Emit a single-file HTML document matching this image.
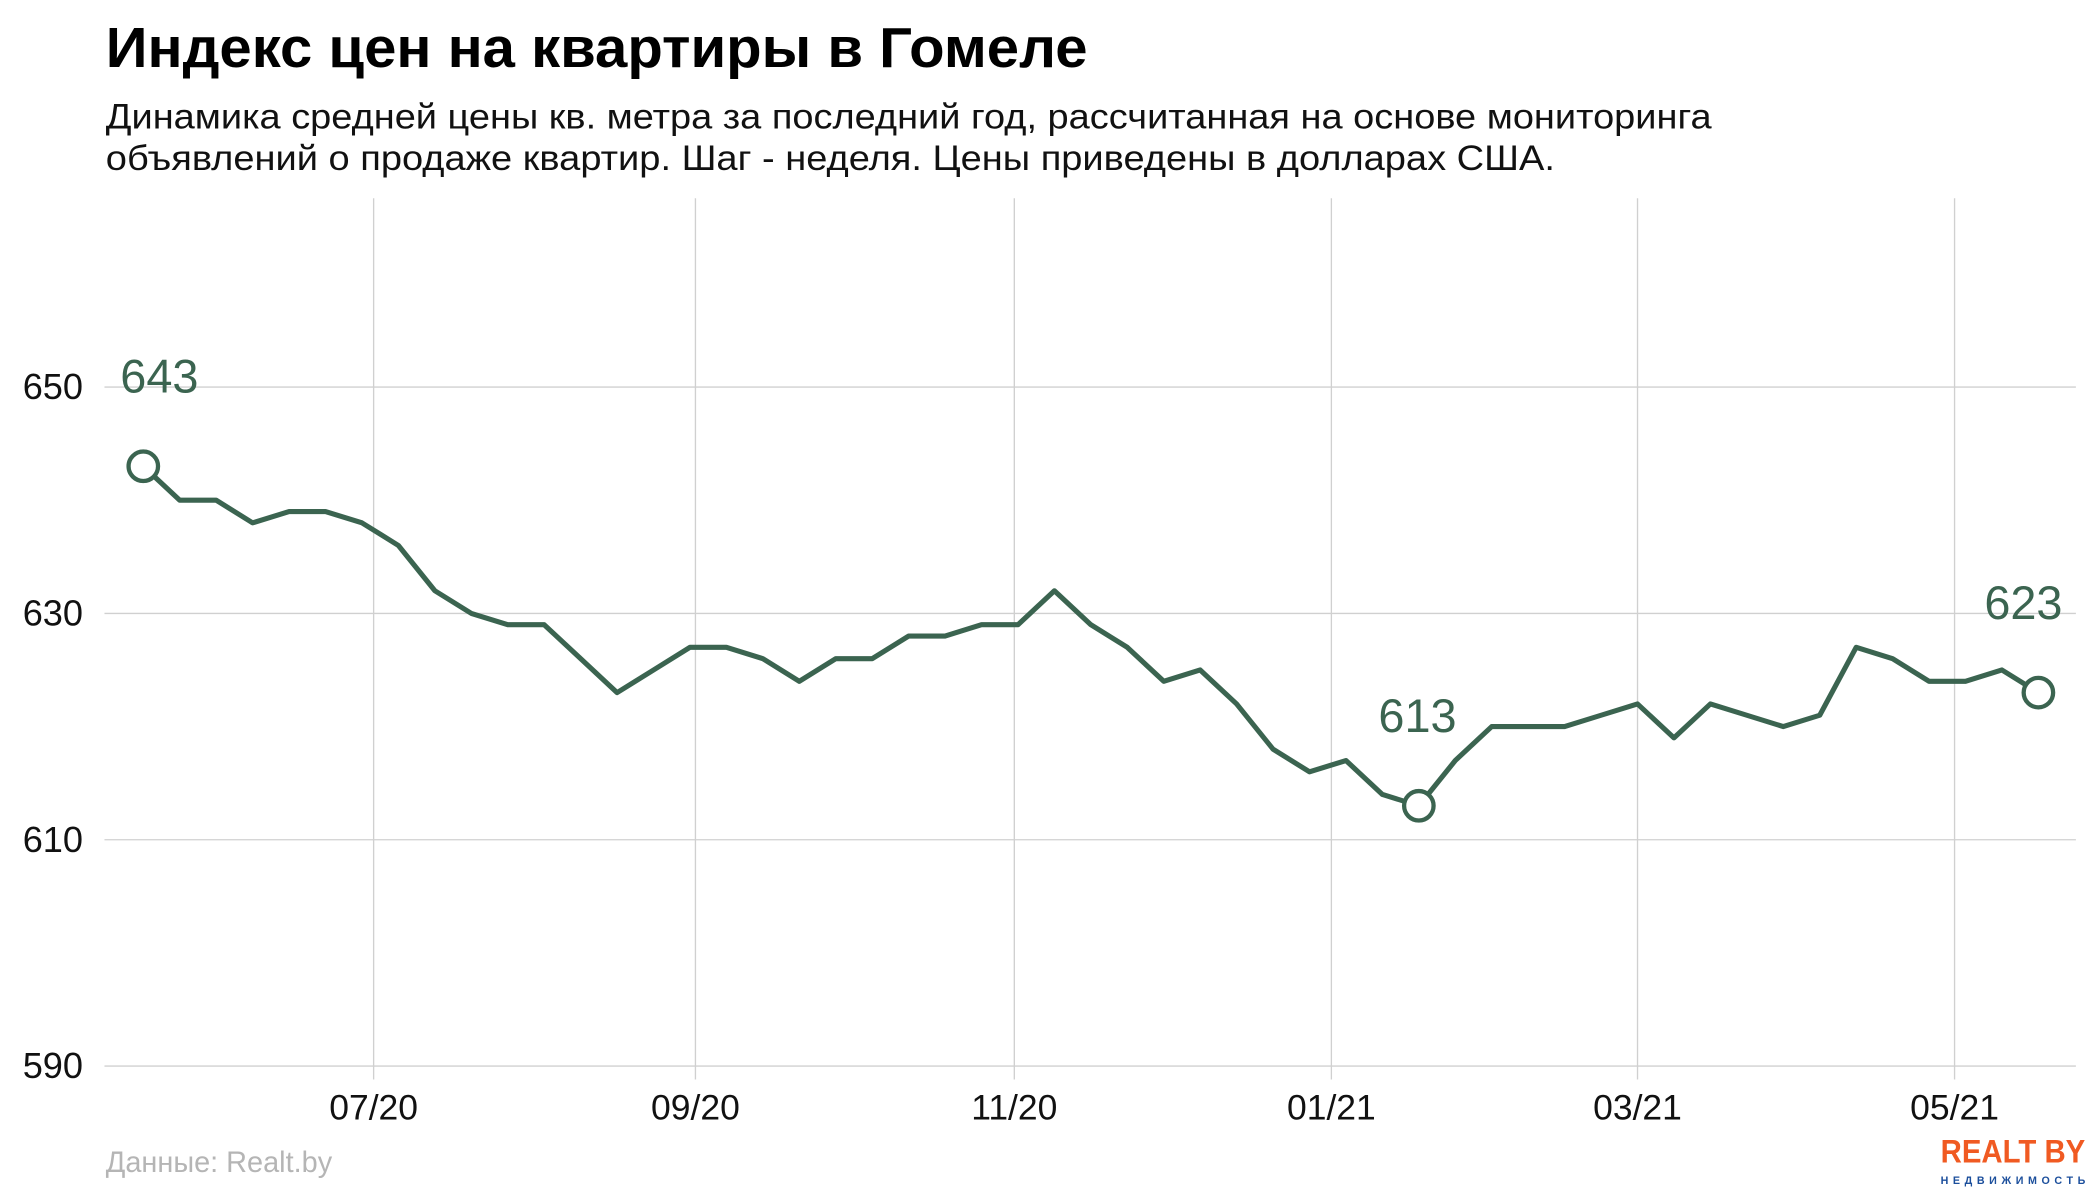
<!DOCTYPE html>
<html><head><meta charset="utf-8"><style>
html,body{margin:0;padding:0;background:#fff;}
svg{display:block;font-family:"Liberation Sans",Arial,sans-serif;}
</style></head><body>
<svg id="chart" width="2100" height="1200" viewBox="0 0 1568 896" preserveAspectRatio="none" xmlns="http://www.w3.org/2000/svg">
<text x="79" y="50" font-size="42" font-weight="bold" fill="#000" textLength="733" lengthAdjust="spacingAndGlyphs">Индекс цен на квартиры в Гомеле</text>
<text x="79" y="96" font-size="26.5" fill="#111" textLength="1199" lengthAdjust="spacingAndGlyphs">Динамика средней цены кв. метра за последний год, рассчитанная на основе мониторинга</text>
<text x="79" y="127" font-size="26.5" fill="#111" textLength="1082" lengthAdjust="spacingAndGlyphs">объявлений о продаже квартир. Шаг - неделя. Цены приведены в долларах США.</text>
<g id="grid"></g>
<g id="yticks"></g>
<g id="xticks"></g>
<g id="series"></g>
<text x="79" y="875" font-size="22" fill="#b5b5b5" textLength="169" lengthAdjust="spacingAndGlyphs">Данные: Realt.by</text>
<g>
<text x="1557" y="868" font-size="24" font-weight="bold" fill="#f05a22" text-anchor="end" textLength="108" lengthAdjust="spacingAndGlyphs">REALT BY</text>
<text x="1557" y="884" font-size="8" font-weight="bold" fill="#1c4f9c" text-anchor="end" textLength="108" lengthAdjust="spacing">НЕДВИЖИМОСТЬ</text>
</g>
</svg>
<script>
const values = [643,640,640,638,639,639,638,636,632,630,629,629,626,623,625,627,627,626,624,626,626,628,628,629,629,632,629,627,624,625,622,618,616,617,614,613,617,620,620,620,621,622,619,622,621,620,621,627,626,624,624,625,623];
const yTicks = [590,610,630,650];
const xTickLabels = ["07/20","09/20","11/20","01/21","03/21","05/21"];
const xTickIdx = [6.32,15.15,23.9,32.6,41.0,49.7];
const labeled = [0,35,52];

const NS="http://www.w3.org/2000/svg";
const X0=107, DX=(1522-107)/52;
const xs=i=>X0+i*DX;
const ys=v=>796-(v-590)*(796-289)/60;
function mk(tag,attrs,parent){const e=document.createElementNS(NS,tag);for(const k in attrs)e.setAttribute(k,attrs[k]);parent.appendChild(e);return e;}
const grid=document.getElementById('grid'),yg=document.getElementById('yticks'),xg=document.getElementById('xticks'),sg=document.getElementById('series');
yTicks.forEach(t=>{
  const l=mk('line',{x1:78,x2:1550,y1:ys(t),y2:ys(t),stroke:'#d0d0d0','stroke-width':1},grid);
  
  
  const tx=mk('text',{x:62,y:ys(t)+9,'font-size':27,'text-anchor':'end',fill:'#111'},yg);
  tx.textContent=t;
  
  
});
xTickIdx.forEach((d,i)=>{
  const l=mk('line',{x1:xs(d),x2:xs(d),y1:148,y2:806,stroke:'#d0d0d0','stroke-width':1},grid);
  
  
  const tx=mk('text',{x:xs(d),y:836,'font-size':26.5,'text-anchor':'middle',fill:'#111'},xg);
  tx.textContent=xTickLabels[i];
  
  
});
const p=mk('polyline',{points:values.map((v,i)=>xs(i)+','+ys(v)).join(' '),fill:'none',stroke:'#3b6450','stroke-width':3.8,'stroke-linejoin':'round'},sg);


labeled.forEach((i,k)=>{
  const c=mk('circle',{cx:xs(i),cy:ys(values[i]),r:11,fill:'#fff',stroke:'#3b6450','stroke-width':3.2},sg);
  
  
  const lx = k===0?xs(i)+12:xs(i);
  const t=mk('text',{x:lx,y:ys(values[i])-55,'font-size':35,'text-anchor':k===2?'end':'middle',fill:'#3b6450'},sg);
  if(k===2)t.setAttribute('x',xs(i)+18);
  if(k===1)t.setAttribute('x',xs(i)-1);
  t.textContent=values[i];
  
  
});
</script>
</body></html>
